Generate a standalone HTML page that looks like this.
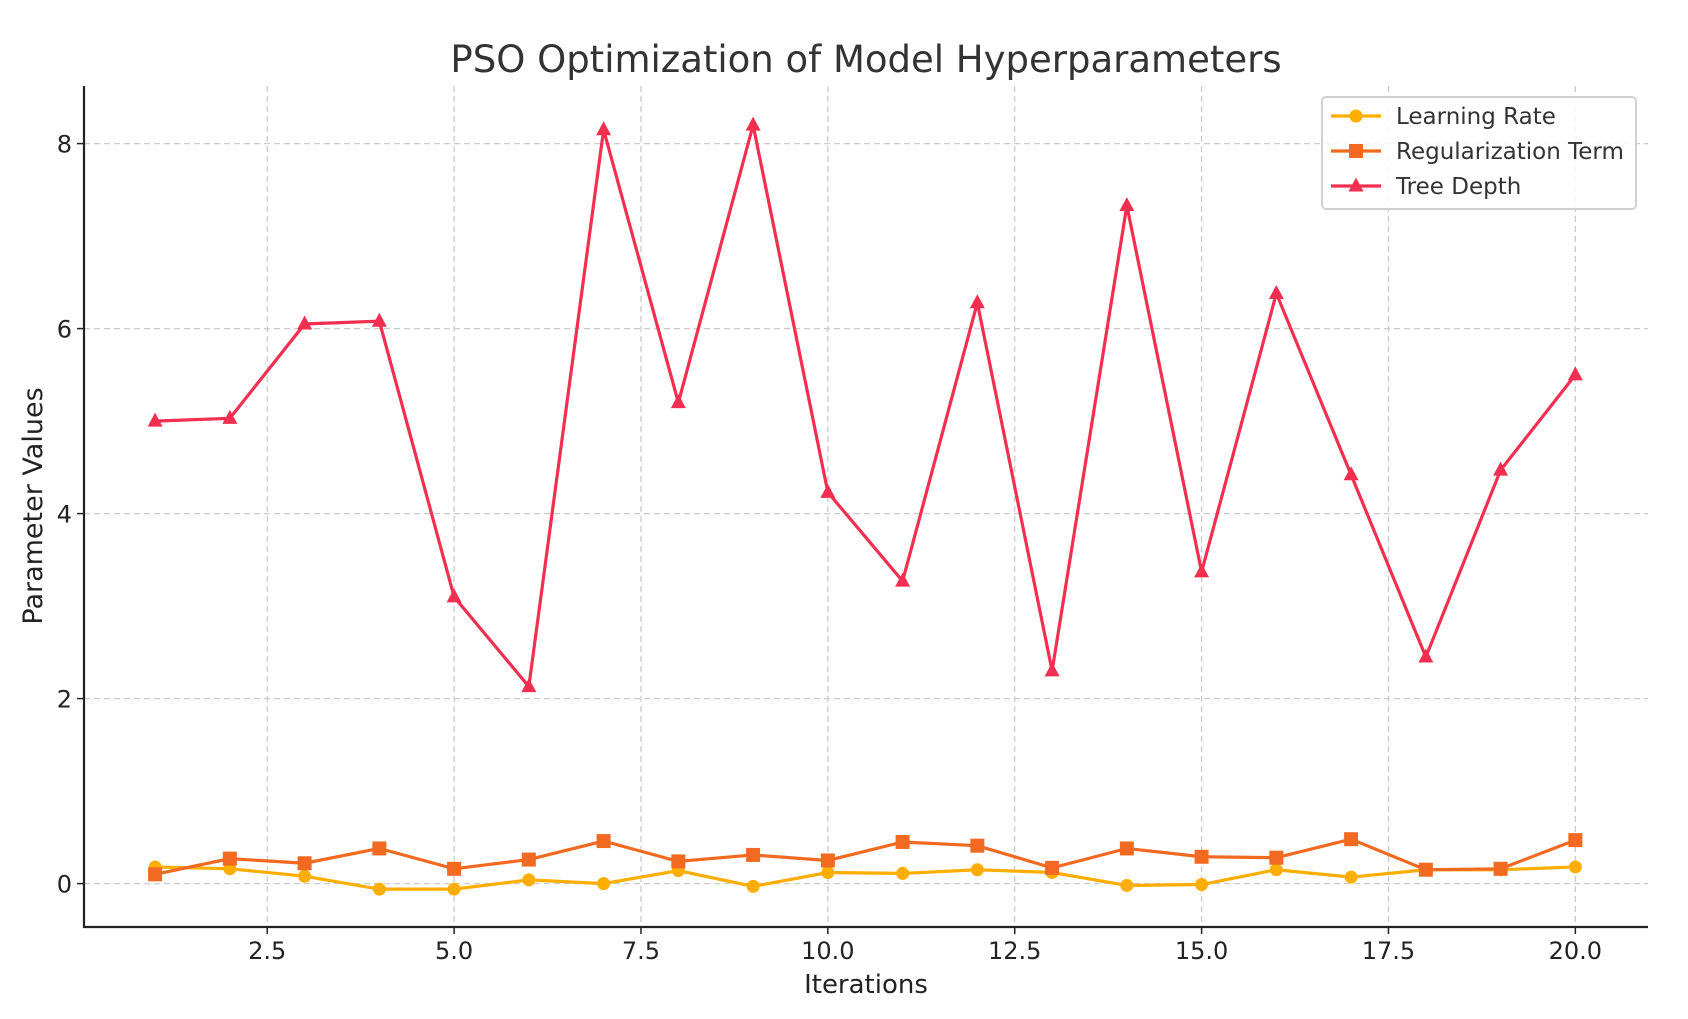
<!DOCTYPE html>
<html><head><meta charset="utf-8"><style>
body{margin:0;background:#fff;}
svg{display:block;font-family:"DejaVu Sans","Liberation Sans",sans-serif;}
</style></head><body>
<svg id="chart" width="1688" height="1019" viewBox="0 0 1688 1019" xmlns="http://www.w3.org/2000/svg">
<rect width="1688" height="1019" fill="#fff"/>
<text x="866" y="72" font-size="37" text-anchor="middle" fill="#333">PSO Optimization of Model Hyperparameters</text>
<g id="grid"></g>
<g id="series"></g>
<g id="axes"></g>
<text x="866" y="993" font-size="26" text-anchor="middle" fill="#222">Iterations</text>
<text transform="translate(42,506) rotate(-90)" font-size="27" text-anchor="middle" fill="#222">Parameter Values</text>
<g id="legend">
<rect x="1322" y="97" width="314" height="112" rx="4" fill="#fff" fill-opacity="0.85" stroke="#d0d0d0" stroke-width="2"/>
</g>
</svg>
<script>
const iterations=[1,2,3,4,5,6,7,8,9,10,11,12,13,14,15,16,17,18,19,20];
const learningRate=[0.18,0.16,0.08,-0.06,-0.06,0.04,0.0,0.14,-0.03,0.12,0.11,0.15,0.12,-0.02,-0.01,0.15,0.07,0.15,0.15,0.18];
const regularization=[0.1,0.27,0.22,0.38,0.16,0.26,0.46,0.24,0.31,0.25,0.45,0.41,0.17,0.38,0.29,0.28,0.48,0.15,0.16,0.47];
const treeDepth=[5.0,5.03,6.05,6.08,3.1,2.13,8.15,5.2,8.2,4.23,3.27,6.28,2.3,7.33,3.37,6.38,4.42,2.45,4.47,5.5];
const xTicks=[2.5,5.0,7.5,10.0,12.5,15.0,17.5,20.0];
const xTickLabels=["2.5","5.0","7.5","10.0","12.5","15.0","17.5","20.0"];
const yTicks=[0,2,4,6,8];
const yTickLabels=["0","2","4","6","8"];
const L=84,R=1648,T=86,B=927;
const xs=v=>155.1+(v-1)*74.75;
const ys=v=>883.6-v*92.5;
const NS="http://www.w3.org/2000/svg";
function mk(tag,attrs,parent){const e=document.createElementNS(NS,tag);for(const k in attrs)e.setAttribute(k,attrs[k]);parent.appendChild(e);return e;}
const grid=document.getElementById('grid'),axes=document.getElementById('axes'),series=document.getElementById('series'),legend=document.getElementById('legend');
xTicks.forEach((t,i)=>{
 const g=mk('line',{x1:xs(t),x2:xs(t),y1:T,y2:B,stroke:'#ccc','stroke-dasharray':'6,4','stroke-width':1.3},grid);
 
 
 mk('line',{x1:xs(t),x2:xs(t),y1:B,y2:B+7,stroke:'#222','stroke-width':1.5},axes);
 const tx=mk('text',{x:xs(t),y:B+32,'font-size':24,'text-anchor':'middle',fill:'#222'},axes);
 tx.textContent=xTickLabels[i];
 
 
});
yTicks.forEach((t,i)=>{
 const g=mk('line',{x1:L,x2:R,y1:ys(t),y2:ys(t),stroke:'#ccc','stroke-dasharray':'6,4','stroke-width':1.3},grid);
 
 
 mk('line',{x1:L-7,x2:L,y1:ys(t),y2:ys(t),stroke:'#222','stroke-width':1.5},axes);
 const tx=mk('text',{x:L-12,y:ys(t)+9,'font-size':24,'text-anchor':'end',fill:'#222'},axes);
 tx.textContent=yTickLabels[i];
 
 
});
const ax=mk('path',{d:`M${L},${T} V${B} H${R}`,fill:'none',stroke:'#222','stroke-width':2.2},axes);


function marker(kind,x,y,c,p){
 if(kind==='circle')return mk('circle',{cx:x,cy:y,r:6.5,fill:c},p);
 if(kind==='square')return mk('rect',{x:x-7,y:y-7,width:14,height:14,fill:c},p);
 return mk('path',{d:`M${x},${y-8.5} L${x+7.5},${y+5.5} L${x-7.5},${y+5.5} Z`,fill:c},p);
}
const defs=[
 {name:'learning-rate',label:'Learning Rate',data:learningRate,c:'#ffae00',m:'circle'},
 {name:'regularization-term',label:'Regularization Term',data:regularization,c:'#f26a21',m:'square'},
 {name:'tree-depth',label:'Tree Depth',data:treeDepth,c:'#f22f50',m:'triangle'}];
defs.forEach((s,si)=>{
 const g=mk('g',{},series);
 
 
 const pl=mk('polyline',{points:iterations.map((x,i)=>xs(x)+','+ys(s.data[i])).join(' '),fill:'none',stroke:s.c,'stroke-width':3.2},g);
 
 
 iterations.forEach((x,i)=>{
  const m=marker(s.m,xs(x),ys(s.data[i]),s.c,g);
  
  
 });
 const ly=116+si*35;
 const le=mk('g',{},legend);
 
 
 mk('line',{x1:1331,x2:1381,y1:ly,y2:ly,stroke:s.c,'stroke-width':3.2},le);
 marker(s.m,1356,ly,s.c,le);
 const t=mk('text',{x:1396,y:ly+8,'font-size':23,fill:'#333'},le);
 t.textContent=s.label;
});
</script>
</body></html>
